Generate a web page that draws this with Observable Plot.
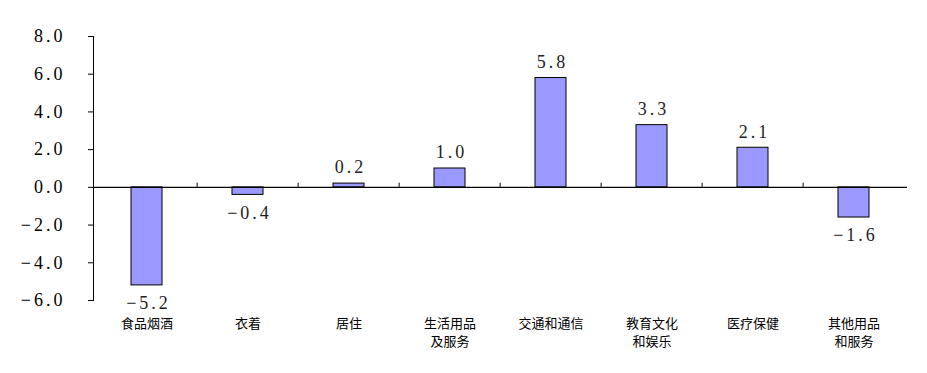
<!DOCTYPE html>
<html><head><meta charset="utf-8">
<script src="https://cdn.jsdelivr.net/npm/d3@7"></script>
<script src="https://cdn.jsdelivr.net/npm/@observablehq/plot@0.6"></script>
<style>body{margin:0;background:#fff;} svg{display:block;}</style>
</head><body><div id="chart"></div>
<script>
const categories = ["食品烟酒","衣着","居住","生活用品\n及服务","交通和通信","教育文化\n和娱乐","医疗保健","其他用品\n和服务"];
const values = [-5.2, -0.4, 0.2, 1.0, 5.8, 3.3, 2.1, -1.6];
const yTicks = [-6, -4, -2, 0, 2, 4, 6, 8];

const data = categories.map((c, i) => ({cat: c, v: values[i]}));
const W = 927, H = 373, ML = 93, MR = 20;
const step = (W - ML - MR) / categories.length;
const fmt = d3.format(".1f");
const SERIF = "Liberation Serif";

const chart = Plot.plot({
  width: W, height: H,
  marginLeft: ML, marginRight: MR, marginTop: 36, marginBottom: 73,
  style: {background: "#fff", color: "#000"},
  x: {domain: categories, padding: 0.69, paddingOuter: 0.345, align: 0.5},
  y: {domain: [-6, 8]},
  marks: [
    Plot.axisY({ticks: yTicks, tickFormat: fmt, tickSize: 5, tickPadding: 23, label: null, fontFamily: SERIF, fontSize: 18}),
    Plot.frame({anchor: "left", stroke: "#000"}),
    Plot.axisX({tickSize: 0, tickPadding: 15, lineHeight: 1.35, label: null, fontFamily: "Noto Sans CJK SC", fontSize: 13}),
    Plot.barY(data, {x: "cat", y: "v", fill: "#9999FF", stroke: "#000", strokeWidth: 1}),
    Plot.ruleY([0], {stroke: "#000", strokeWidth: 1.2}),
    Plot.ruleX(categories.slice(1), {x: d => d, y1: 0, y2: 0.22, dx: -step / 2, stroke: "#000"}),
    Plot.text(data.filter(d => d.v >= 0), {x: "cat", y: "v", text: d => fmt(d.v), dy: -16, dx: 1.5, fill: "#222", fontFamily: SERIF, fontSize: 18}),
    Plot.text(data.filter(d => d.v < 0), {x: "cat", y: "v", text: d => fmt(d.v), dy: 18, dx: 1.5, fill: "#222", fontFamily: SERIF, fontSize: 18})
  ]
});
document.getElementById("chart").append(chart);
d3.select(chart).selectAll('g[aria-label="y-axis tick label"] text, g[aria-label="text"] text')
  .style("letter-spacing", "3px");
</script>
</body></html>
